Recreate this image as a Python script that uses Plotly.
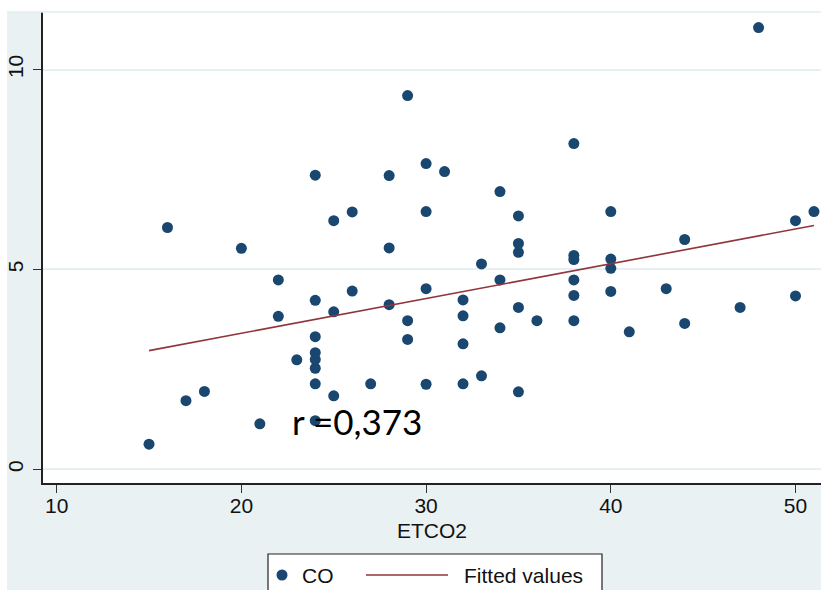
import plotly.graph_objects as go

# ---- data ----
etco2 = [15, 16, 17, 18, 20, 21, 22, 22, 23,
         24, 24, 24, 24, 24, 24, 24, 24,
         25, 25, 25, 26, 26, 27, 28, 28, 28,
         29, 29, 29, 30, 30, 30, 30, 31,
         32, 32, 32, 32, 33, 33, 34, 34, 34,
         35, 35, 35, 35, 35, 36,
         38, 38, 38, 38, 38, 38,
         40, 40, 40, 40, 41, 43, 44, 44, 47, 48, 50, 50, 51]
co = [0.63, 6.05, 1.72, 1.95, 5.53, 1.14, 4.74, 3.83, 2.74,
      7.36, 4.23, 3.32, 2.92, 2.75, 2.53, 2.14, 1.22,
      6.22, 3.94, 1.84, 6.44, 4.46, 2.14, 7.35, 5.54, 4.12,
      9.35, 3.72, 3.25, 7.65, 6.45, 4.52, 2.13, 7.45,
      4.24, 3.84, 3.14, 2.14, 5.14, 2.34, 6.95, 4.74, 3.54,
      6.34, 5.65, 5.43, 4.05, 1.94, 3.72,
      8.15, 5.35, 5.25, 4.74, 4.35, 3.72,
      6.45, 5.26, 5.03, 4.45, 3.44, 4.52, 5.75, 3.65, 4.05, 11.05, 6.22, 4.34, 6.45]
fit_x = [15, 51]
fit_y = [2.97, 6.10]
x_ticks = [10, 20, 30, 40, 50]
y_ticks = [0, 5, 10]
series_names = ["CO", "Fitted values"]
r_label = "r =0,373"
x_title = "ETCO2"

# ---- layout geometry (pixels) ----
W, H = 821, 590
L, R, T, B = 43, 0, 12, 107
pw, ph = W - L - R, H - T - B


def fx(p):
    return (p - L) / pw


def fy(p):
    return (H - B - p) / ph


NAVY = "#1A476F"
MAROON = "#90353B"
BG = "#E9F1F3"
FONT = "Liberation Sans"

fig = go.Figure()
fig.add_trace(go.Scatter(
    x=etco2, y=co, mode="markers", name=series_names[0],
    marker=dict(color=NAVY, size=11, line=dict(width=0)), showlegend=False,
))
fig.add_trace(go.Scatter(
    x=fit_x, y=fit_y, mode="lines", name=series_names[1],
    line=dict(color=MAROON, width=1.6), showlegend=False,
))

fig.add_annotation(
    x=22.65, y=1.2, xref="x", yref="y", text=r_label, showarrow=False,
    xanchor="left", yanchor="middle",
    font=dict(family="Lato", size=35, color="#000000"),
)
fig.add_annotation(
    x=0.5, y=fy(530), xref="paper", yref="paper", text=x_title, showarrow=False,
    xanchor="center", yanchor="middle", font=dict(family=FONT, size=21, color="#111111"),
)

# legend box (drawn like the Stata legend)
leg_y = 575
shapes = [
    dict(type="rect", xref="paper", yref="paper", x0=fx(0), x1=fx(W), y0=fy(T), y1=fy(0),
         fillcolor="white", line=dict(width=0), layer="below"),
    dict(type="rect", xref="paper", yref="paper", x0=fx(0), x1=fx(7), y0=fy(H), y1=fy(0),
         fillcolor="white", line=dict(width=0), layer="below"),
    dict(type="line", xref="paper", yref="paper", x0=fx(7), x1=1, y0=1, y1=1,
         line=dict(color="#E3EDEF", width=1.5)),
    dict(type="rect", xref="paper", yref="paper", x0=fx(268), x1=fx(602), y0=fy(600), y1=fy(554),
         fillcolor="white", line=dict(color="#222222", width=1.2)),
    dict(type="circle", xref="paper", yref="paper", x0=fx(276.5), x1=fx(287.5),
         y0=fy(leg_y + 5.5), y1=fy(leg_y - 5.5), fillcolor=NAVY, line=dict(width=0)),
    dict(type="line", xref="paper", yref="paper", x0=fx(366), x1=fx(448),
         y0=fy(leg_y), y1=fy(leg_y), line=dict(color=MAROON, width=1.6)),
]
fig.add_annotation(x=fx(300), y=fy(leg_y), xref="paper", yref="paper", text=series_names[0],
                   showarrow=False, xanchor="left", yanchor="middle",
                   font=dict(family=FONT, size=21, color="#111111"))
fig.add_annotation(x=fx(462), y=fy(leg_y), xref="paper", yref="paper", text=series_names[1],
                   showarrow=False, xanchor="left", yanchor="middle",
                   font=dict(family=FONT, size=21, color="#111111"))

fig.update_layout(
    width=W, height=H,
    margin=dict(l=L, r=R, t=T, b=B, autoexpand=False),
    paper_bgcolor=BG, plot_bgcolor="white",
    font=dict(family=FONT, size=21, color="#111111"),
    shapes=shapes,
    showlegend=False,
    xaxis=dict(
        range=[9.26, 51.38], tickvals=x_ticks, ticks="outside", ticklen=8,
        tickwidth=1.2, tickcolor="#333333", showline=True, linecolor="#222222",
        linewidth=1.5, showgrid=False, zeroline=False, ticklabelstandoff=-5,
        tickfont=dict(size=21),
    ),
    yaxis=dict(
        range=[-0.34, 11.44], tickvals=y_ticks, ticks="outside", ticklen=8,
        tickwidth=1.2, tickcolor="#333333", showline=True, linecolor="#222222",
        linewidth=1.5, showgrid=True, gridcolor="#E6EFF1", gridwidth=1.5,
        zeroline=False, tickangle=-90, tickfont=dict(size=21), ticklabelstandoff=2,
    ),
)

fig.write_html("out.html", post_script="document.body.style.margin='0';",
               config={"displayModeBar": False})
